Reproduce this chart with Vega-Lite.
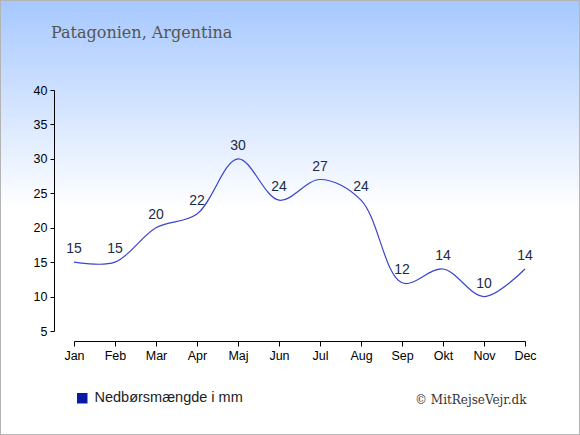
{
  "$schema": "https://vega.github.io/schema/vega-lite/v6.json",
  "width": 580,
  "height": 435,
  "autosize": "none",
  "padding": 0,
  "config": {
    "font": "Liberation Sans",
    "view": {
      "fill": {
        "gradient": "linear",
        "x1": 0, "y1": 0, "x2": 0, "y2": 1,
        "stops": [
          {"offset": 0, "color": "#a6c8ff"},
          {"offset": 0.48, "color": "#ffffff"},
          {"offset": 1, "color": "#ffffff"}
        ]
      },
      "stroke": "#b4b4b4",
      "strokeWidth": 2
    }
  },
  "title": {
    "text": "Patagonien, Argentina",
    "anchor": "start",
    "frame": "group",
    "dx": 51,
    "offset": -54,
    "baseline": "alphabetic",
    "font": "DejaVu Serif",
    "fontSize": 16,
    "fontWeight": "normal",
    "color": "#555555"
  },
  "data": {
    "values": [
      {"month": "Jan", "mm": 15},
      {"month": "Feb", "mm": 15},
      {"month": "Mar", "mm": 20},
      {"month": "Apr", "mm": 22},
      {"month": "Maj", "mm": 30},
      {"month": "Jun", "mm": 24},
      {"month": "Jul", "mm": 27},
      {"month": "Aug", "mm": 24},
      {"month": "Sep", "mm": 12},
      {"month": "Okt", "mm": 14},
      {"month": "Nov", "mm": 10},
      {"month": "Dec", "mm": 14}
    ]
  },
  "encoding": {
    "x": {
      "field": "month",
      "type": "ordinal",
      "sort": null,
      "scale": {"type": "point", "range": [74, 525], "padding": 0},
      "axis": {
        "orient": "bottom",
        "offset": -94,
        "labelAngle": 0,
        "domainColor": "#000000",
        "tickColor": "#000000",
        "tickSize": 5,
        "labelColor": "#000000",
        "labelFontSize": 12.5,
        "labelPadding": 3,
        "title": "© MitRejseVejr.dk",
        "titleX": 526,
        "titleY": 62,
        "titleAlign": "right",
        "titleBaseline": "alphabetic",
        "titleFont": "DejaVu Serif",
        "titleFontSize": 12,
        "titleFontWeight": "normal",
        "titleColor": "#333333"
      }
    },
    "y": {
      "field": "mm",
      "type": "quantitative",
      "scale": {"domain": [5, 40], "range": [331, 90], "nice": false, "zero": false},
      "axis": {
        "orient": "left",
        "offset": -54,
        "values": [5, 10, 15, 20, 25, 30, 35, 40],
        "grid": false,
        "domainColor": "#000000",
        "tickColor": "#000000",
        "tickSize": 4,
        "labelColor": "#000000",
        "labelFontSize": 12.5,
        "labelPadding": 3,
        "title": null
      }
    }
  },
  "layer": [
    {
      "mark": {"type": "line", "interpolate": "catmull-rom", "strokeWidth": 1.2},
      "encoding": {
        "color": {
          "datum": "Nedbørsmængde i mm",
          "scale": {"range": ["#3b45cc"]},
          "legend": {
            "title": null,
            "orient": "none",
            "legendX": 75,
            "legendY": 391,
            "padding": 0,
            "symbolType": "square",
            "symbolSize": 110,
            "labelFontSize": 14.5,
            "labelColor": "#222222",
            "labelOffset": 5,
            "encode": {
              "symbols": {
                "update": {
                  "fill": {"value": "#0a1aa8"},
                  "stroke": {"value": "#0a1aa8"},
                  "strokeWidth": {"value": 0}
                }
              }
            }
          }
        }
      }
    },
    {
      "mark": {
        "type": "text",
        "dy": -9,
        "baseline": "alphabetic",
        "fontSize": 14,
        "color": "#1a2a4a"
      },
      "encoding": {
        "text": {"field": "mm", "type": "quantitative"}
      }
    }
  ]
}
